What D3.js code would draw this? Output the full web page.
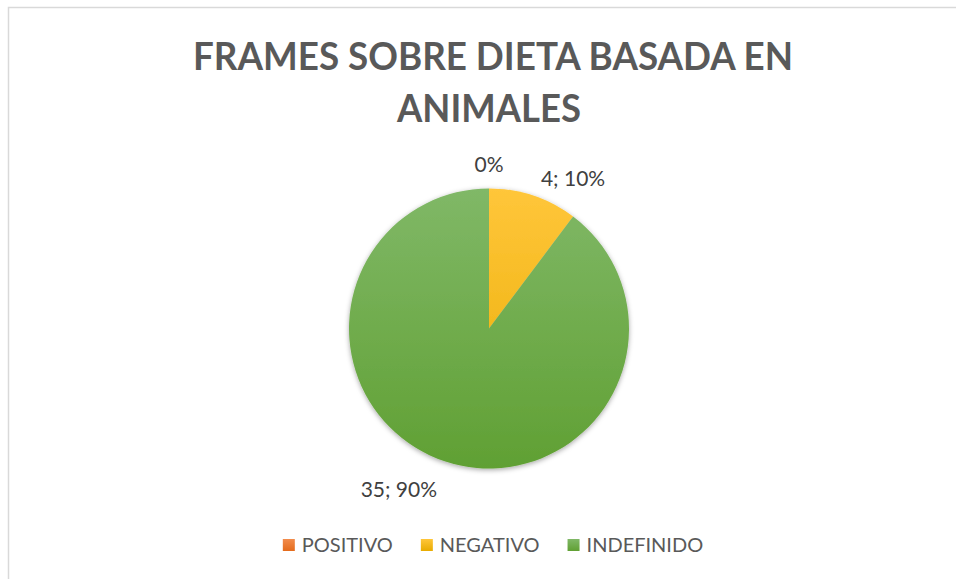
<!DOCTYPE html>
<html>
<head>
<meta charset="utf-8">
<script src="https://cdn.jsdelivr.net/npm/d3@7"></script>
<style>
  body { margin: 0; background: #fff; }
  text { font-family: Lato, 'Open Sans', sans-serif; }
</style>
</head>
<body>
<script>
var categories = ['POSITIVO', 'NEGATIVO', 'INDEFINIDO']
var values = [0, 4, 35]
var labels = ['0%', '4; 10%', '35; 90%']
var titleLines = ['FRAMES SOBRE DIETA BASADA EN', 'ANIMALES']

var width = 956, height = 579
var cx = 489, cy = 328.5, radius = 140

var colors = d3.scaleOrdinal()
  .domain(categories)
  .range([['#f28c4c', '#e46b1c'], ['#ffc63a', '#e8ab00'], ['#80b867', '#60a033']])

var svg = d3.select('body').append('svg')
  .attr('width', width)
  .attr('height', height)

var defs = svg.append('defs')

categories.forEach(function (c, i) {
  // pie gradient lives in the translated group, so it spans -r..r
  var g = defs.append('linearGradient')
    .attr('id', 'grad' + i)
    .attr('gradientUnits', 'userSpaceOnUse')
    .attr('x1', 0).attr('y1', -radius)
    .attr('x2', 0).attr('y2', radius)
  g.append('stop').attr('offset', '0%').attr('stop-color', colors(c)[0])
  g.append('stop').attr('offset', '100%').attr('stop-color', colors(c)[1])

  var lg = defs.append('linearGradient')
    .attr('id', 'lgrad' + i)
    .attr('x1', 0).attr('y1', 0).attr('x2', 0).attr('y2', 1)
  lg.append('stop').attr('offset', '0%').attr('stop-color', colors(c)[0])
  lg.append('stop').attr('offset', '100%').attr('stop-color', colors(c)[1])
})

var shadow = defs.append('filter')
  .attr('id', 'shadow')
  .attr('x', '-10%').attr('y', '-10%')
  .attr('width', '120%').attr('height', '120%')
shadow.append('feDropShadow')
  .attr('dx', 0).attr('dy', 1.5)
  .attr('stdDeviation', 2.5)
  .attr('flood-color', '#000')
  .attr('flood-opacity', 0.35)

// chart area border (runs off the right and bottom of the window)
svg.append('rect')
  .attr('x', 8.5).attr('y', 7.5)
  .attr('width', 1000).attr('height', 700)
  .attr('fill', 'none')
  .attr('stroke', '#d9d9d9')
  .attr('stroke-width', 1.5)

// title
var title = svg.append('text')
  .attr('text-anchor', 'middle')
  .attr('fill', '#595959')
  .attr('font-weight', 'bold')
  .attr('font-size', 38)
title.selectAll('tspan')
  .data(titleLines)
  .enter().append('tspan')
  .attr('x', function (d, i) { return i === 0 ? 493 : 489 })
  .attr('y', function (d, i) { return 70 + i * 52 })
  .attr('textLength', function (d, i) { return i === 0 ? 600 : 184 })
  .attr('lengthAdjust', 'spacingAndGlyphs')
  .text(function (d) { return d })

var pie = d3.pie().sort(null).value(function (d) { return d.value })
var data = categories.map(function (c, i) {
  return { cat: c, value: values[i], label: labels[i], idx: i }
})
var arcs = pie(data)

var arc = d3.arc().innerRadius(0).outerRadius(radius)
var labelArc = d3.arc().innerRadius(radius + 24).outerRadius(radius + 24)

var g = svg.append('g')
  .attr('transform', 'translate(' + cx + ',' + cy + ')')

g.append('g')
  .attr('filter', 'url(#shadow)')
  .selectAll('path')
  .data(arcs)
  .enter().append('path')
  .attr('d', arc)
  .attr('fill', function (d) { return 'url(#grad' + d.data.idx + ')' })

g.selectAll('text.label')
  .data(arcs)
  .enter().append('text')
  .attr('class', 'label')
  .attr('fill', '#404040')
  .attr('font-size', 21)
  .attr('dy', function (d) {
    var c = labelArc.centroid(d)
    return Math.abs(c[0]) > 5 ? '0.6em' : '0.35em'
  })
  .attr('transform', function (d) {
    var c = labelArc.centroid(d)
    return 'translate(' + c[0] + ',' + c[1] + ')'
  })
  .attr('text-anchor', function (d) {
    var x = labelArc.centroid(d)[0]
    return x > 5 ? 'start' : (x < -5 ? 'end' : 'middle')
  })
  .text(function (d) { return d.data.label })

// legend
var legend = svg.append('g')
  .attr('transform', 'translate(0,545)')
var items = legend.selectAll('g')
  .data(categories)
  .enter().append('g')
items.append('rect')
  .attr('width', 12).attr('height', 12)
  .attr('y', -6)
  .attr('fill', function (d, i) { return 'url(#lgrad' + i + ')' })
items.append('text')
  .attr('x', 19)
  .attr('dy', '0.36em')
  .attr('fill', '#595959')
  .attr('font-size', 20)
  .text(function (d) { return d })

var offset = 0
var starts = []
items.each(function () {
  var w = 19 + d3.select(this).select('text').node().getComputedTextLength()
  starts.push(offset)
  offset += w + 28
})
var total = offset - 28
var startX = 493 - total / 2
items.attr('transform', function (d, i) { return 'translate(' + (startX + starts[i]) + ',0)' })
</script>
</body>
</html>
